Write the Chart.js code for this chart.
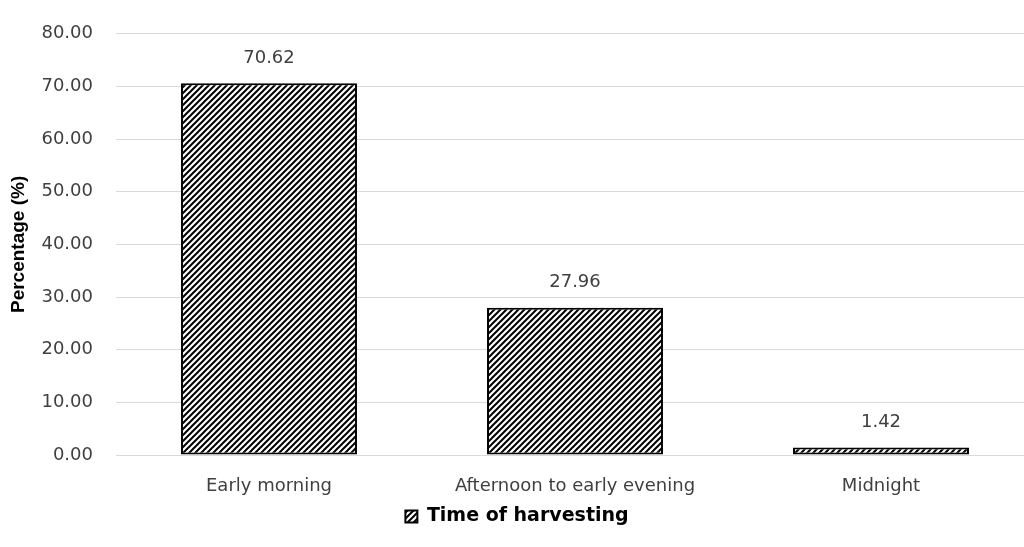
<!DOCTYPE html>
<html>
<head>
<meta charset="utf-8">
<script src="https://cdn.jsdelivr.net/npm/chart.js@4/dist/chart.umd.min.js"></script>
<style>
html,body{margin:0;padding:0;background:#fff;overflow:hidden;}
#wrap{width:1040px;height:547px;position:relative;}
</style>
</head>
<body>
<div id="wrap"><canvas id="c" width="1040" height="547"></canvas></div>
<script>
const categories = ["Early morning", "Afternoon to early evening", "Midnight"];
const values = [70.62, 27.96, 1.42];
const seriesName = "Time of harvesting";
const yTitle = "Percentage (%)";

function makePattern(){
  const s = 6;
  const p = document.createElement('canvas');
  p.width = s; p.height = s;
  const g = p.getContext('2d');
  g.fillStyle = '#fff'; g.fillRect(0,0,s,s);
  g.strokeStyle = '#000'; g.lineWidth = 2;
  g.beginPath();
  g.moveTo(-1, s+1); g.lineTo(s+1, -1);
  g.moveTo(-1, 1); g.lineTo(1, -1);
  g.moveTo(s-1, s+1); g.lineTo(s+1, s-1);
  g.stroke();
  return g.createPattern(p, 'repeat');
}
const pattern = makePattern();
const FONT = "'DejaVu Sans', sans-serif";

const dataLabels = {
  id: 'dataLabels',
  afterDatasetsDraw(chart){
    const ctx = chart.ctx;
    const meta = chart.getDatasetMeta(0);
    ctx.save();
    ctx.font = "18px " + FONT;
    ctx.fillStyle = '#404040';
    ctx.textAlign = 'center';
    ctx.textBaseline = 'middle';
    meta.data.forEach((bar, i) => {
      ctx.fillText(values[i].toFixed(2), bar.x, bar.y - 25);
    });
    ctx.restore();
  }
};

new Chart(document.getElementById('c'), {
  type: 'bar',
  data: {
    labels: categories,
    datasets: [{
      label: seriesName,
      data: values,
      backgroundColor: pattern,
      borderColor: '#000',
      borderWidth: 2,
      borderSkipped: false,
      categoryPercentage: 1,
      barPercentage: 0.575
    }]
  },
  options: {
    responsive: false,
    animation: false,
    devicePixelRatio: 1,
    layout: { padding: { top: 30, right: 6, bottom: 11, left: 0 } },
    plugins: {
      legend: {
        position: 'bottom',
        labels: {
          boxWidth: 12, boxHeight: 12, padding: 10,
          color: '#000',
          font: { family: FONT, size: 19, weight: 'bold' }
        }
      },
      tooltip: { enabled: false }
    },
    scales: {
      x: {
        grid: { display: false, drawTicks: false },
        border: { display: false },
        ticks: { color: '#404040', padding: 21, font: { family: FONT, size: 18 } },
        afterFit(s){ s.height = 42; }
      },
      y: {
        min: 0, max: 80,
        grid: { color: '#d9d9d9', lineWidth: 1, drawTicks: false },
        border: { display: false },
        ticks: {
          stepSize: 10, padding: 23, color: '#404040',
          font: { family: FONT, size: 18 },
          callback: v => Number(v).toFixed(2)
        },
        title: {
          display: true, text: yTitle, color: '#000',
          font: { family: "'Liberation Sans', Arial, sans-serif", size: 19, weight: 'bold' },
          padding: { top: 7, bottom: 0 }
        },
        afterFit(s){ s.width = 116; }
      }
    }
  },
  plugins: [dataLabels]
});
</script>
</body>
</html>
